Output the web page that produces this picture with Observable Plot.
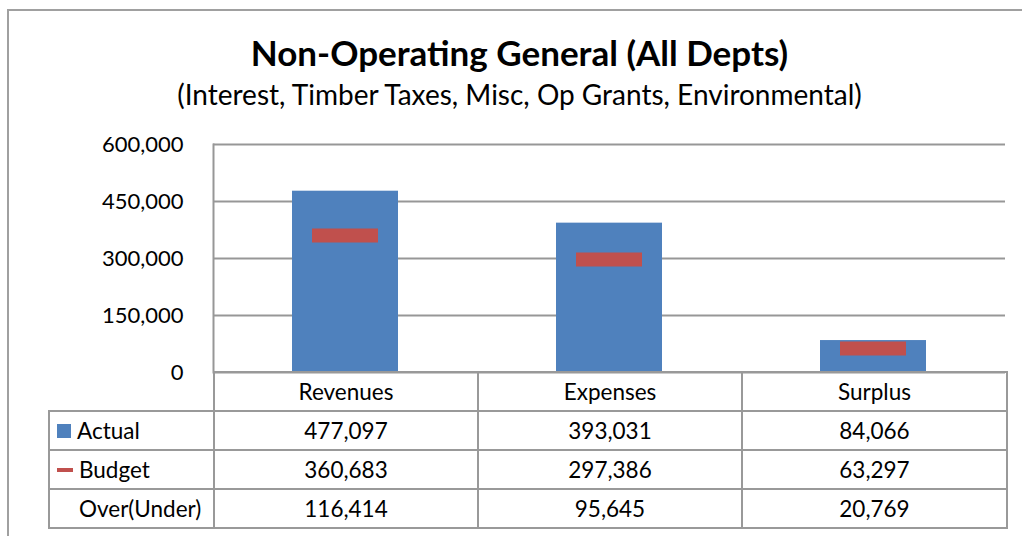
<!DOCTYPE html>
<html><head><meta charset="utf-8">
<script src="https://cdn.jsdelivr.net/npm/d3@7"></script>
<script src="https://cdn.jsdelivr.net/npm/@observablehq/plot@0.6"></script>
<style>
body{margin:0;background:#fff;font-family:Lato,"Open Sans",sans-serif;}
#wrap{position:relative;width:1022px;height:536px;overflow:hidden;background:#fff;}
#chart{position:absolute;left:0;top:0;}
#frame{position:absolute;left:7px;top:9px;width:1100px;height:600px;border:2px solid #a0a0a0;box-sizing:border-box;}
#title{position:absolute;left:0;width:1039px;text-align:center;top:35px;font-size:35px;line-height:35px;font-weight:bold;color:#000;white-space:nowrap;}
#subtitle{position:absolute;left:0;width:1039px;text-align:center;top:80px;font-size:28px;line-height:28px;color:#000;white-space:nowrap;}
#tbl{position:absolute;left:48px;top:371px;border-collapse:collapse;table-layout:fixed;width:958px;font-size:22.5px;color:#000;}
#tbl td{border:2px solid #999;padding:0;text-align:center;height:37px;line-height:23px;overflow:visible;white-space:nowrap;}
#tbl td.lab{text-align:left;padding-left:7px;}
#tbl td.blank{border-left:none;border-top:none;}
.sw{display:inline-block;vertical-align:middle;margin-right:6px;position:relative;top:-2px;}
</style>
</head><body>
<div id="wrap">
  <div id="chart"></div>
  <div id="title"></div>
  <div id="subtitle"></div>
  <table id="tbl"><colgroup><col style="width:165px"><col style="width:264px"><col style="width:264px"><col style="width:265px"></colgroup></table>
  <div id="frame"></div>
</div>
<script>
const titleText = "Non-Operating General (All Depts)";
const subtitleText = "(Interest, Timber Taxes, Misc, Op Grants, Environmental)";
const categories = ["Revenues", "Expenses", "Surplus"];
const actual = [477097, 393031, 84066];
const budget = [360683, 297386, 63297];
const overUnder = [116414, 95645, 20769];
const rowLabels = ["Actual", "Budget", "Over(Under)"];
const yTicks = [0, 150000, 300000, 450000, 600000];
const actualColor = "#4F81BD";
const budgetColor = "#C0504D";
const gridColor = "#979797";

document.getElementById("title").textContent = titleText;
document.getElementById("subtitle").textContent = subtitleText;

const data = categories.map((c, i) => ({category: c, actual: actual[i], budget: budget[i]}));
const fmt = d3.format(",");

const chart = Plot.plot({
  width: 1022,
  height: 536,
  marginLeft: 213,
  marginRight: 17,
  marginTop: 144,
  marginBottom: 164,
  style: {fontFamily: "Lato, 'Open Sans', sans-serif", fontSize: "22px", background: "transparent", color: "#000"},
  x: {domain: categories, paddingInner: 0.6, paddingOuter: 0.3, axis: null},
  y: {domain: [0, 600000], ticks: yTicks, tickFormat: fmt, tickSize: 0, tickPadding: 30, label: null},
  marks: [
    Plot.ruleY(yTicks, {stroke: gridColor, strokeWidth: 2}),
    Plot.barY(data, {x: "category", y: "actual", fill: actualColor}),
    Plot.tickY(data, {x: "category", y: "budget", stroke: budgetColor, strokeWidth: 14, insetLeft: 20, insetRight: 20}),
    Plot.frame({anchor: "left", stroke: gridColor, strokeWidth: 2})
  ]
});
document.getElementById("chart").appendChild(chart);

// data table
const tbl = document.getElementById("tbl");
const header = document.createElement("tr");
const blank = document.createElement("td");
blank.className = "blank";
header.appendChild(blank);
categories.forEach((c) => {
  const td = document.createElement("td");
  td.textContent = c;
  header.appendChild(td);
});
tbl.appendChild(header);
const rows = [actual, budget, overUnder];
const swatches = [
  "width:14px;height:14px;background:" + actualColor + ";",
  "width:16px;height:4px;background:" + budgetColor + ";",
  "width:16px;height:4px;background:transparent;"
];
rows.forEach((vals, r) => {
  const tr = document.createElement("tr");
  const lab = document.createElement("td");
  lab.className = "lab";
  const s = document.createElement("span");
  s.className = "sw";
  s.style.cssText += swatches[r];
  lab.appendChild(s);
  lab.appendChild(document.createTextNode(rowLabels[r]));
  tr.appendChild(lab);
  vals.forEach(v => {
    const td = document.createElement("td");
    td.textContent = fmt(v);
    tr.appendChild(td);
  });
  tbl.appendChild(tr);
});
</script>
</body></html>
